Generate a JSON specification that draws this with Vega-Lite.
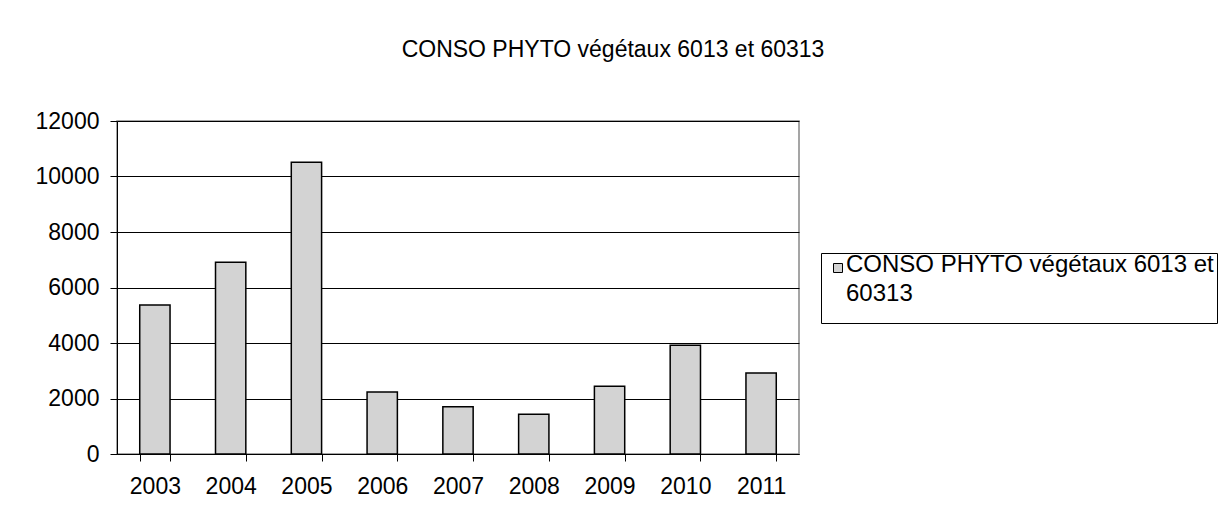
{
  "$schema": "https://vega.github.io/schema/vega-lite/v6.json",
  "autosize": {"type": "none"},
  "width": 682,
  "height": 333,
  "padding": {"left": 117, "top": 121, "right": 424, "bottom": 71},
  "background": "white",
  "title": {
    "text": "CONSO PHYTO végétaux 6013 et 60313",
    "font": "Liberation Sans",
    "fontSize": 23,
    "fontWeight": "normal",
    "color": "black",
    "anchor": "middle",
    "frame": "group",
    "dx": 155,
    "limit": 1000,
    "baseline": "alphabetic",
    "offset": 30
  },
  "data": {
    "values": [
      {"year": "2003", "value": 5370},
      {"year": "2004", "value": 6910},
      {"year": "2005", "value": 10510},
      {"year": "2006", "value": 2230},
      {"year": "2007", "value": 1700},
      {"year": "2008", "value": 1430},
      {"year": "2009", "value": 2440},
      {"year": "2010", "value": 3920},
      {"year": "2011", "value": 2920}
    ]
  },
  "mark": {"type": "bar", "stroke": "black", "strokeWidth": 1.5},
  "encoding": {
    "x": {
      "field": "year",
      "type": "ordinal",
      "scale": {"paddingInner": 0.6, "paddingOuter": 0.3},
      "axis": {
        "title": null,
        "labelAngle": 0,
        "tickBand": "extent",
        "tickSize": 7,
        "tickColor": "black",
        "domainColor": "black",
        "labelFontSize": 23,
        "labelPadding": 14,
        "labelColor": "black",
        "labelFont": "Liberation Sans",
        "grid": false
      }
    },
    "y": {
      "field": "value",
      "type": "quantitative",
      "scale": {"domain": [0, 12000], "nice": false},
      "axis": {
        "title": null,
        "values": [0, 2000, 4000, 6000, 8000, 10000, 12000],
        "format": "d",
        "tickSize": 7,
        "tickColor": "black",
        "domainColor": "black",
        "grid": true,
        "gridColor": "black",
        "gridOpacity": 1,
        "labelFontSize": 23,
        "labelPadding": 11,
        "labelColor": "black",
        "labelFont": "Liberation Sans"
      }
    },
    "color": {
      "datum": "CONSO PHYTO végétaux 6013 et 60313",
      "type": "nominal",
      "scale": {"range": ["#D3D3D3"]},
      "legend": {
        "title": " ",
        "titleOrient": "bottom",
        "titleFontSize": 10,
        "titlePadding": 4,
        "orient": "none",
        "legendX": 704,
        "legendY": 132,
        "strokeColor": "black",
        "fillColor": "white",
        "padding": 3,
        "symbolType": "square",
        "symbolSize": 81,
        "symbolOffset": 2,
        "symbolStrokeColor": "black",
        "symbolStrokeWidth": 1,
        "symbolFillColor": "#D3D3D3",
        "labelFontSize": 24,
        "labelFont": "Liberation Sans",
        "labelColor": "black",
        "labelLimit": 600,
        "labelOffset": -4,
        "labelExpr": "['CONSO PHYTO végétaux 6013 et', '60313']",
        "encode": {
          "labels": {
            "update": {
              "lineHeight": {"value": 28.5},
              "baseline": {"value": "alphabetic"},
              "dy": {"value": 4}
            }
          }
        }
      }
    }
  },
  "config": {
    "view": {"stroke": "#888888", "strokeWidth": 1.5},
    "font": "Liberation Sans"
  }
}
